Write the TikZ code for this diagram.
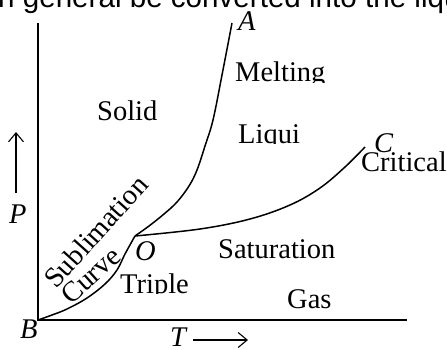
\documentclass[tikz,border=0pt]{standalone}
\usepackage{fontspec}
\setmainfont{Liberation Serif}
\newfontfamily\topsans{Liberation Sans}
\usetikzlibrary{arrows.meta}
\tikzset{
  lbl/.style={inner sep=0pt, anchor=base west, font=\fontsize{28.5}{34}\selectfont},
  ilbl/.style={lbl, font=\fontsize{28.5}{34}\selectfont\itshape},
  axis/.style={line width=1.5pt},
  curve/.style={line width=1.5pt, line join=round},
  dirarrow/.style={line width=1.1pt, -{Straight Barb[length=9pt,width=15pt,line width=1.1pt]}}
}
\begin{document}
\begin{tikzpicture}[x=1pt,y=-1pt]
\useasboundingbox (0,0) rectangle (447,349);
\clip (0,0) rectangle (447,349);
% cut-off sentence at the top
\node[inner sep=0pt, anchor=base west, font=\fontsize{29.6}{34}\selectfont\topsans] (top) at (-2,7.5) {n general be converted into the liqu};
% axes
\coordinate (B) at (38,320);
\coordinate (Ytop) at (38,23);
\coordinate (Xend) at (407,320);
\draw[axis] (Ytop) -- (B) -- (Xend);
% key points
\coordinate (O) at (135,236);
\coordinate (A) at (232,23);
\coordinate (C) at (365,147);
% sublimation curve B-O
\draw[curve] plot[smooth, tension=0.6] coordinates {(B) (52,315) (67,309) (87,298) (105,284) (117,270) (125,254) (O)};
% melting curve O-A
\draw[curve] plot[smooth, tension=0.6] coordinates {(O) (149,226) (164,214) (177,202) (189,186) (197,170) (205,146) (213,120) (222,75) (A)};
% vaporisation curve O-C
\draw[curve] plot[smooth, tension=0.6] coordinates {(O) (200,229) (250,219) (290,205) (320,188) (345,167) (C)};
% labels
\node[ilbl] (lA) at (238,30) {A};
\node[ilbl] (lC) at (374,152) {C};
\node[ilbl] (lO) at (135,260) {O};
\node[ilbl] (lB) at (20,338) {B};
\node[ilbl] (lP) at (9,223) {P};
\node[ilbl] (lT) at (170,346) {T};
\node[lbl] (solid) at (97,120) {Solid};
\begin{scope}
\clip (200,40) rectangle (447,82);
\node[lbl] (melting) at (235,81.7) {Melting};
\end{scope}
\begin{scope}
\clip (200,100) rectangle (447,143.5);
\node[lbl] (liquid) at (238,143) {Liqui};
\end{scope}
\node[lbl] (critical) at (361,171) {Critical};
\node[lbl] (saturation) at (218,258) {Saturation};
\begin{scope}
\clip (100,260) rectangle (250,293.5);
\node[lbl] (triple) at (120,293) {Triple};
\end{scope}
\node[lbl] (gas) at (287,308) {Gas};
\node[lbl, anchor=base, rotate=48] (subl) at (103,238) {Sublimation};
\node[lbl, anchor=base, rotate=42] (curv) at (97,282) {Curve};
% direction arrows
\coordinate (Pfrom) at (16,193);
\coordinate (Pto) at (16,132);
\draw[dirarrow] (Pfrom) -- (Pto);
\coordinate (Tfrom) at (193,340);
\coordinate (Tto) at (248,340);
\draw[dirarrow] (Tfrom) -- (Tto);
\end{tikzpicture}
\end{document}
